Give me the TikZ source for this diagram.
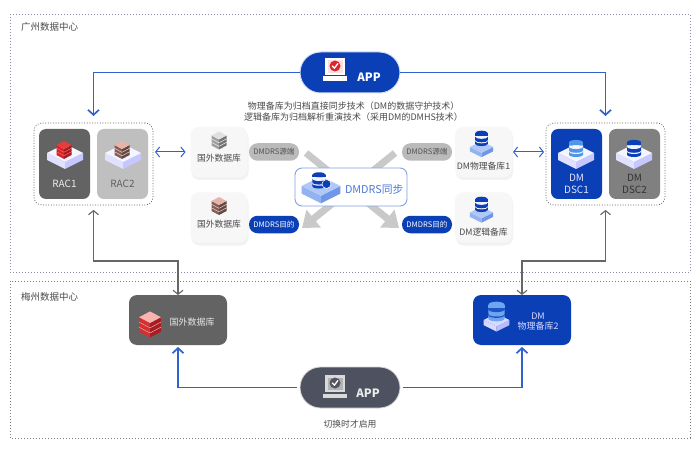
\documentclass[tikz,border=0pt]{standalone}
\usepackage{fontspec}
\setmainfont{Noto Sans CJK SC}
\usetikzlibrary{arrows.meta,calc}
\definecolor{blueA}{HTML}{0A3FB6}
\definecolor{lineblue}{HTML}{2F62D0}
\definecolor{linegray}{HTML}{666666}
\definecolor{txt}{HTML}{4A4A4A}
\definecolor{redT}{RGB}{232,60,60}
\definecolor{redL}{RGB}{215,35,40}
\definecolor{redR}{RGB}{170,25,32}
\definecolor{brT}{RGB}{232,180,170}
\definecolor{brL}{RGB}{130,95,88}
\definecolor{brR}{RGB}{98,72,66}
\definecolor{pkT}{RGB}{248,180,175}
\definecolor{pkL}{RGB}{218,45,48}
\definecolor{pkR}{RGB}{170,28,34}
\definecolor{dbLight}{RGB}{80,150,232}
\definecolor{dbPale}{RGB}{110,165,240}
\definecolor{dbGap}{RGB}{30,85,195}
\definecolor{plT}{RGB}{176,200,247}
\definecolor{plL}{RGB}{146,178,242}
\definecolor{plR}{RGB}{112,150,232}
\definecolor{appGray}{RGB}{78,81,96}
\definecolor{chk}{RGB}{215,40,50}
\definecolor{chkG}{RGB}{85,85,95}
\newcommand{\fsz}[1]{\fontsize{#1}{#1}\selectfont}
\newcommand{\cylb}[3]{\fill[#3] (-7,#1) -- (-7,#1+#2) .. controls (-7,#1+#2+3.3) and (7,#1+#2+3.3) .. (7,#1+#2) -- (7,#1) -- cycle;}
\newcommand{\isolayer}[3]{%
  \fill[#2] (-7.5,#1) -- (0,#1+4) -- (0,#1+7) -- (-7.5,#1+3) -- cycle;
  \fill[#3] (7.5,#1) -- (0,#1+4) -- (0,#1+7) -- (7.5,#1+3) -- cycle;}
\tikzset{
  every node/.style={inner sep=0pt,outer sep=0pt,text=txt,align=center},
  zone/.style={draw=#1,line width=.8pt,dash pattern=on 1pt off 2pt},
  group/.style={draw=black!60,line width=.7pt,dash pattern=on 1pt off 1.6pt,rounded corners=8pt,minimum width=119pt,minimum height=82pt},
  unitbox/.style={fill=#1,rounded corners=7pt,minimum width=51pt,minimum height=70pt},
  card/.style={fill=white!97!black,rounded corners=8pt,minimum width=57pt,minimum height=50pt,
    preaction={fill=black!5,transform canvas={xshift=1pt,yshift=-3pt}}},
  badge/.style={fill=#1,rounded corners=8.5pt,minimum width=50pt,minimum height=17.5pt,font=\fsz{7.6}},
  pill/.style={fill=#1,rounded corners=20.5pt,minimum width=100pt,minimum height=41pt},
  bignode/.style={fill=#1,rounded corners=8pt,minimum width=98pt,minimum height=50pt},
  lab/.style={font=\fsz{8.8}},
  bluelink/.style={draw=lineblue,line width=1.7pt,-{Straight Barb[length=5pt,width=11pt,line width=1.7pt]}},
  graylink/.style={draw=linegray,line width=1.1pt,{Straight Barb[length=4pt,width=10pt]}-{Straight Barb[length=4pt,width=10pt]}},
  dualink/.style={draw=lineblue,line width=1pt,{Straight Barb[length=4pt,width=10pt]}-{Straight Barb[length=4pt,width=10pt]}},
  fatarrow/.style={draw=black!21,line width=7pt,-{Triangle[length=15pt,width=22pt]}},
  pics/platform/.style n args={3}{code={
    \fill[#2] (-18,0) -- (0,9) -- (0,16) -- (-18,7) -- cycle;
    \fill[#3] (18,0) -- (0,9) -- (0,16) -- (18,7) -- cycle;
    \fill[#1] (-18,0) -- (0,-9) -- (18,0) -- (0,9) -- cycle;}},
  pics/dbstack/.style n args={2}{code={
    \cylb{3.5}{3}{#1}
    \cylb{2.3}{1.2}{#2}
    \cylb{-1.5}{3.8}{#1}
    \cylb{-2.7}{1.2}{#2}
    \fill[#1] (0,-5.5) ellipse [x radius=7,y radius=2.6];
    \fill[#1] (-7,-5.5) rectangle (7,-2.7);}},
  pics/srvstack/.style n args={3}{code={
    \isolayer{3}{#2}{#3}
    \isolayer{-.5}{#2}{#3}
    \isolayer{-4}{#2}{#3}
    \draw[#1,line width=.4pt] (-7.5,-.6) -- (0,3.4) -- (7.5,-.6);
    \draw[#1,line width=.4pt] (-7.5,2.9) -- (0,6.9) -- (7.5,2.9);
    \fill[#1] (-7.5,-4) -- (0,-8) -- (7.5,-4) -- (0,0) -- cycle;}},
  pics/monitor/.style n args={3}{code={
    \fill[#1] (-10,-12) rectangle (10,5);
    \fill[#2] (-7.5,-9.5) rectangle (7.5,3);
    \fill[#1] (-12,6.5) -- (12,6.5) -- (12,11) -- (-12,11) -- cycle;
    \fill[#3] (0,-4) circle [radius=5.5];
    \draw[white,line width=1.3pt] (-2.8,-4.2) -- (-.6,-1.8) -- (3,-6.6);}},
}
\begin{document}
\begin{tikzpicture}[x=1pt,y=-1pt]
\useasboundingbox (0,0) rectangle (700,454);
\fill[white] (0,0) rectangle (700,454);
% zones
\draw[zone={black!30!blue!30!gray!70}] (10,14) rectangle (690,272);
\draw[zone=black!50] (10,281) rectangle (690,438);
\node[font=\fsz{9.5},anchor=west] (gz) at (21,27) {广州数据中心};
\node[font=\fsz{9.5},anchor=west] (mz) at (21,297) {梅州数据中心};
% fat crossing arrows
\coordinate (xtl) at (306,153);
\coordinate (xtr) at (395,153);
\coordinate (xbl) at (302,228);
\coordinate (xbr) at (399,228);
\draw[fatarrow] (xtl) -- (xbr);
\draw[fatarrow] (xtr) -- (xbl);
% groups
\node[group] (ragroup) at (93.5,164) {};
\node[group] (dsgroup) at (605.5,164) {};
\node[unitbox={black!61}] (rac1) at (64.5,164) {};
\node[unitbox={black!25}] (rac2) at (122.5,164) {};
\node[unitbox={blueA}] (dsc1) at (576.5,164) {};
\node[unitbox={black!50}] (dsc2) at (634.5,164) {};
\pic at (65,153) {platform={white!96!blue}{blue!12!white}{blue!22!white}};
\pic at (123,153) {platform={white!96!blue}{blue!12!white}{blue!22!white}};
\pic at (576,153) {platform={white!96!blue}{blue!12!white}{blue!22!white}};
\pic at (634,153) {platform={white!96!blue}{blue!12!white}{blue!22!white}};
\pic at (64,149) {srvstack={redT}{redL}{redR}};
\pic at (122,149) {srvstack={brT}{brL}{brR}};
\pic at (576,148) {dbstack={dbLight}{white!95!blue}};
\pic at (634,148) {dbstack={blueA}{white!95!blue}};
\node[font=\fsz{10},text=white!92!black] (rac1t) at (64.5,184) {RAC1};
\node[font=\fsz{10},text=black!62] (rac2t) at (122.5,184) {RAC2};
\node[font=\fsz{10},text=white!90!blue] (dsc1t) at (576.5,184) {DM\\[2pt]DSC1};
\node[font=\fsz{10},text=black!80] (dsc2t) at (634.5,184) {DM\\[2pt]DSC2};
% cards
\node[card] (c1) at (219,152) {};
\node[card] (c2) at (219,217.5) {};
\node[card] (c3) at (483.5,152) {};
\node[card] (c4) at (483.5,217.5) {};
\pic at (219,139.5) {srvstack={black!12}{black!38}{black!55}};
\pic at (219,205) {srvstack={brT}{brL}{brR}};
\pic[scale=.64] at (481.5,147) {platform={plT}{plL}{plR}};
\pic[scale=.64] at (481.5,212.5) {platform={plT}{plL}{plR}};
\pic[scale=.9] at (481.5,138) {dbstack={blueA}{white!95!blue}};
\pic[scale=.9] at (481.5,204) {dbstack={blueA}{white!95!blue}};
\node[lab] (c1t) at (219,158) {国外数据库};
\node[lab] (c2t) at (219,224.5) {国外数据库};
\node[lab] (c3t) at (483.5,166) {DM物理备库1};
\node[lab] (c4t) at (483.5,232) {DM逻辑备库};
% badges
\node[badge={black!27},text=black!68] (b1) at (274,152) {DMDRS源端};
\node[badge={blueA},text=white] (b2) at (274,224.5) {DMDRS目的};
\node[badge={black!27},text=black!68] (b3) at (427,152) {DMDRS源端};
\node[badge={blueA},text=white] (b4) at (427,224.5) {DMDRS目的};
% centre box
\node[fill=white,draw=lineblue!60,line width=.9pt,rounded corners=7pt,minimum width=112pt,minimum height=38pt] (dmdrs) at (351,187) {};
\pic[scale=1.08] at (321,186) {platform={plT}{plL}{plR}};
\pic[scale=.95] at (319,180) {dbstack={blueA}{white!95!blue}};
\fill[blueA,draw=white,line width=.6pt] (326.5,184) circle [radius=4.5];
\node[font=\fsz{10.8},text=lineblue!85,anchor=west] (dmdrst) at (345,189) {DMDRS同步};
% apps
\node[pill={blueA},draw=lineblue!20,line width=1pt] (app1) at (350,72.5) {};
\pic at (335,70) {monitor={white}{red!12!white}{chk}};
\node[font=\bfseries\fsz{11.5},text=white] (app1t) at (369,77) {APP};
\node[pill={appGray},draw=black!15,line width=.8pt] (app2) at (350,387.5) {};
\pic at (335,387) {monitor={black!15}{black!30}{chkG}};
\node[font=\bfseries\fsz{11.5},text=white!92!black] (app2t) at (368,393) {APP};
\node[font=\fsz{8.8}] (sw) at (350,424) {切换时才启用};
\node[font=\fsz{9}] (tx) at (353.5,111.5) {物理备库为归档直接同步技术（DM的数据守护技术）\\[2.2pt]逻辑备库为归档解析重演技术（采用DM的DMHS技术）};
% bottom nodes
\node[bignode={black!61}] (gw) at (178,320) {};
\node[bignode={blueA}] (dm2) at (522,320) {};
\pic[scale=1.45] at (150,323) {srvstack={pkT}{pkL}{pkR}};
\pic[scale=.72] at (496.5,320) {platform={white!85!blue}{blue!15!white}{blue!27!white}};
\pic[scale=1.15] at (496.5,311) {dbstack={dbPale}{dbGap}};
\node[font=\fsz{9},text=white!90!black] (gwt) at (192,322) {国外数据库};
\node[font=\fsz{9},text=white!85!blue] (dm2t) at (538,321.5) {DM\\[1.5pt]物理备库2};
% connectors
\coordinate (gl) at (94,261);
\coordinate (gr) at (605,261);
\draw[bluelink,shorten >=7pt] (app1.west) -| (ragroup.north);
\draw[bluelink,shorten >=7pt] (app1.east) -| (dsgroup.north);
\draw[bluelink,shorten <=3pt,shorten >=2pt] (app2.west) -| (gw.south);
\draw[bluelink,shorten <=3pt,shorten >=2pt] (app2.east) -| (dm2.south);
\draw[graylink,shorten <=5pt] (ragroup.south) |- (gl) -| (gw.north);
\draw[graylink,shorten <=5pt] (dsgroup.south) |- (gr) -| (dm2.north);
\draw[dualink,shorten <=2pt,shorten >=5pt] (ragroup.east |- c1.west) -- (c1.west);
\draw[dualink,shorten <=1pt,shorten >=2pt] (c3.east) -- (dsgroup.west |- c3.east);
\end{tikzpicture}
\end{document}
